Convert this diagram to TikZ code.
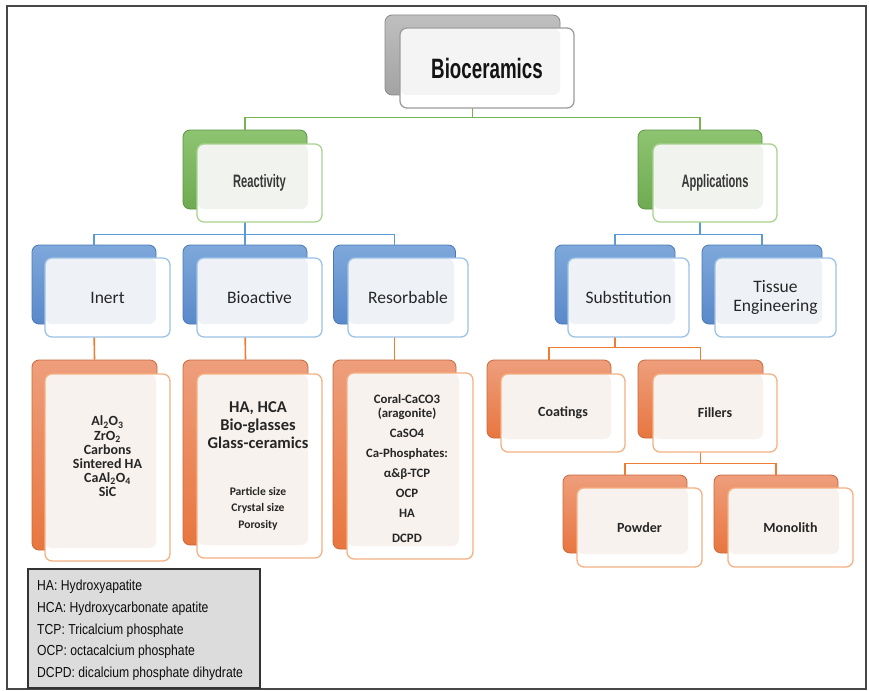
\documentclass[tikz,border=0pt]{standalone}
\usepackage{fontspec}
\setmainfont{Carlito}
\newfontfamily\agencyT[FakeStretch=0.67]{Liberation Sans}
\newfontfamily\agencyM[FakeStretch=0.62]{Liberation Sans}
\newfontfamily\agencyL[FakeStretch=0.84]{Liberation Sans}
\definecolor{grayTop}{HTML}{BFBFBF}
\definecolor{grayBot}{HTML}{A3A3A3}
\definecolor{grayEdge}{HTML}{8A8A8A}
\definecolor{grayFront}{HTML}{9C9C9C}
\definecolor{grayTint}{HTML}{F4F4F4}
\definecolor{greenTop}{HTML}{8DC470}
\definecolor{greenBot}{HTML}{6FAA52}
\definecolor{greenEdge}{HTML}{5E9346}
\definecolor{greenFront}{HTML}{AAD291}
\definecolor{greenTint}{HTML}{F0F3EE}
\definecolor{greenLine}{HTML}{77B352}
\definecolor{blueTop}{HTML}{7EA8DB}
\definecolor{blueBot}{HTML}{5A89CA}
\definecolor{blueEdge}{HTML}{4C78B3}
\definecolor{blueFront}{HTML}{9DC3E6}
\definecolor{blueTint}{HTML}{EEF2F7}
\definecolor{blueLine}{HTML}{5B9BD5}
\definecolor{orTop}{HTML}{EE9E7C}
\definecolor{orBot}{HTML}{E8763F}
\definecolor{orEdge}{HTML}{C8693C}
\definecolor{orFront}{HTML}{F4B183}
\definecolor{orTint}{HTML}{F8F2EE}
\definecolor{orLine}{HTML}{ED7D31}
\definecolor{legFill}{HTML}{DCDCDC}
\definecolor{txt}{HTML}{262626}
\begin{document}
\begin{tikzpicture}[x=1pt,y=-1pt,
  back/.style 2 args={draw=#1Edge, top color=#1Top, bottom color=#1Bot, rounded corners=7pt,
    inner sep=0pt, line width=0.8pt, minimum width=124pt, minimum height=#2},
  front/.style 2 args={draw=#1Front, fill=white, rounded corners=7pt, inner sep=0pt,
    line width=1.3pt, minimum width=125pt, minimum height=#2, text=txt, align=center,
    path picture={\fill[#1Tint, rounded corners=7pt] (path picture bounding box.north west)
      rectangle ([xshift=-14pt,yshift=13pt]path picture bounding box.south east);}},
  conn/.style={draw=#1, line width=1.6pt},
  lvlthree/.style={font=\fontsize{17.5}{19}\selectfont},
  lvlfour/.style={font=\bfseries\fontsize{14}{16}\selectfont},
  listtext/.style={align=center, inner sep=0pt, text=txt}
]
\useasboundingbox (0,0) rectangle (869,690);
\fill[white] (0,0) rectangle (869,690);
\draw[line width=2pt, draw=black!72] (6.5,6.5) rectangle (865.5,688.5);

% ---------- back boxes ----------
\node[back={gray}{80pt}, minimum width=175pt] (bio-b) at (472.5,55) {};
\node[back={green}{79pt}] (react-b) at (245,169.5) {};
\node[back={green}{79pt}] (appl-b) at (700,169.5) {};
\node[back={blue}{79pt}] (inert-b) at (94,284.5) {};
\node[back={blue}{79pt}] (bioact-b) at (245,284.5) {};
\node[back={blue}{79pt}, minimum width=122pt] (resorb-b) at (394.5,284.5) {};
\node[back={blue}{79pt}, minimum width=120pt] (subst-b) at (615,284.5) {};
\node[back={blue}{79pt}, minimum width=120pt] (tissue-b) at (762,284.5) {};
\node[back={or}{190pt}, minimum width=125pt] (inertL-b) at (94.5,455) {};
\node[back={or}{185pt}, minimum width=125pt] (bioactL-b) at (245.5,452.5) {};
\node[back={or}{189pt}, minimum width=123pt] (resorbL-b) at (394.5,454.5) {};
\node[back={or}{78pt}] (coat-b) at (549,399) {};
\node[back={or}{78pt}, minimum width=125pt] (fill-b) at (700.5,399) {};
\node[back={or}{78pt}] (powder-b) at (625,514) {};
\node[back={or}{78pt}] (mono-b) at (776,514) {};

% ---------- connectors (covered by the front boxes) ----------
\draw[conn=greenLine] (bio-b.south) -- ++(0,22) -| (react-b.north);
\draw[conn=greenLine] (bio-b.south) -- ++(0,22) -| (appl-b.north);
\draw[conn=blueLine] (react-b.south) -- ++(0,25) -| (inert-b.north);
\draw[conn=blueLine] (react-b.south) -- ++(0,25) -| (bioact-b.north);
\draw[conn=blueLine] (react-b.south) -- ++(0,25) -| (resorb-b.north);
\draw[conn=blueLine] (appl-b.south) -- ++(0,25) -| (subst-b.north);
\draw[conn=blueLine] (appl-b.south) -- ++(0,25) -| (tissue-b.north);
\draw[conn=orLine] (inert-b.south) -- (inertL-b.north);
\draw[conn=orLine] (bioact-b.south) -- (bioactL-b.north);
\draw[conn=orLine] (resorb-b.south) -- (resorbL-b.north);
\draw[conn=orLine] (subst-b.south) -- ++(0,23) -| (coat-b.north);
\draw[conn=orLine] (subst-b.south) -- ++(0,23) -| (fill-b.north);
\draw[conn=orLine] (fill-b.south) -- ++(0,25) -| (powder-b.north);
\draw[conn=orLine] (fill-b.south) -- ++(0,25) -| (mono-b.north);

% ---------- front boxes ----------
\node[front={gray}{80pt}, minimum width=174pt, font=\agencyT\bfseries\fontsize{28}{30}\selectfont, text=black!92] (bio) at (487,68) {Bioceramics};
\node[front={green}{78pt}, font=\agencyM\bfseries\fontsize{18}{20}\selectfont, text=black!78] (react) at (259.5,183) {Reactivity};
\node[front={green}{78pt}, minimum width=124pt, font=\agencyM\bfseries\fontsize{18}{20}\selectfont, text=black!78] (appl) at (715,183) {Applications};
\node[front={blue}{79pt}, lvlthree] (inert) at (107.5,297.5) {Inert};
\node[front={blue}{79pt}, lvlthree] (bioact) at (259.5,297.5) {Bioactive};
\node[front={blue}{79pt}, minimum width=120pt, lvlthree] (resorb) at (408,297.5) {Resorbable};
\node[front={blue}{79pt}, minimum width=121pt, lvlthree] (subst) at (628.5,297.5) {Substitution};
\node[front={blue}{79pt}, minimum width=121pt, font=\fontsize{17.5}{19}\selectfont] (tissue) at (775.5,297.5) {Tissue\\Engineering};
\node[front={or}{187pt}] (inertL) at (107.5,467.5) {};
\node[front={or}{184pt}] (bioactL) at (259.5,466) {};
\node[front={or}{186pt}, minimum width=126pt] (resorbL) at (410,466) {};
\node[front={or}{78pt}, minimum width=124pt, lvlfour] (coat) at (563,413) {Coatings};
\node[front={or}{78pt}, minimum width=124pt, lvlfour] (fill) at (715,413) {Fillers};
\node[front={or}{79pt}, lvlfour] (powder) at (639.5,527.5) {Powder};
\node[front={or}{79pt}, lvlfour] (mono) at (790.5,527.5) {Monolith};

% ---------- list texts ----------
\node[listtext, font=\bfseries\fontsize{14}{14.2}\selectfont] (inertL-t) at (107.5,456.5)
  {Al\textsubscript{2}O\textsubscript{3}\\ZrO\textsubscript{2}\\Carbons\\Sintered HA\\CaAl\textsubscript{2}O\textsubscript{4}\\SiC};
\node[listtext, font=\bfseries\fontsize{16.5}{18}\selectfont] (bioactL-t1) at (258,425)
  {HA, HCA\\Bio-glasses\\Glass-ceramics};
\node[listtext, font=\bfseries\fontsize{11.6}{16.5}\selectfont] (bioactL-t2) at (258,508.5)
  {Particle size\\Crystal size\\Porosity};
\node[listtext, font=\bfseries\fontsize{12.8}{20}\selectfont] (resorbL-t) at (407,469)
  {Coral-CaCO3\\[-6pt](aragonite)\\CaSO4\\Ca-Phosphates:\\α\&β-TCP\\OCP\\HA\\[5pt]DCPD};

% ---------- legend ----------
\node[draw=black!80, line width=1.6pt, fill=legFill, minimum width=232pt, minimum height=119pt, inner sep=0pt] (legend) at (144,628.5) {};
\node[anchor=west, align=left, inner sep=0pt, text=black!95, font=\agencyL\fontsize{14.5}{21.7}\selectfont] (legend-t) at (37,630.5)
  {HA: Hydroxyapatite\\HCA: Hydroxycarbonate apatite\\TCP: Tricalcium phosphate\\OCP: octacalcium phosphate\\DCPD: dicalcium phosphate dihydrate};
\end{tikzpicture}
\end{document}
